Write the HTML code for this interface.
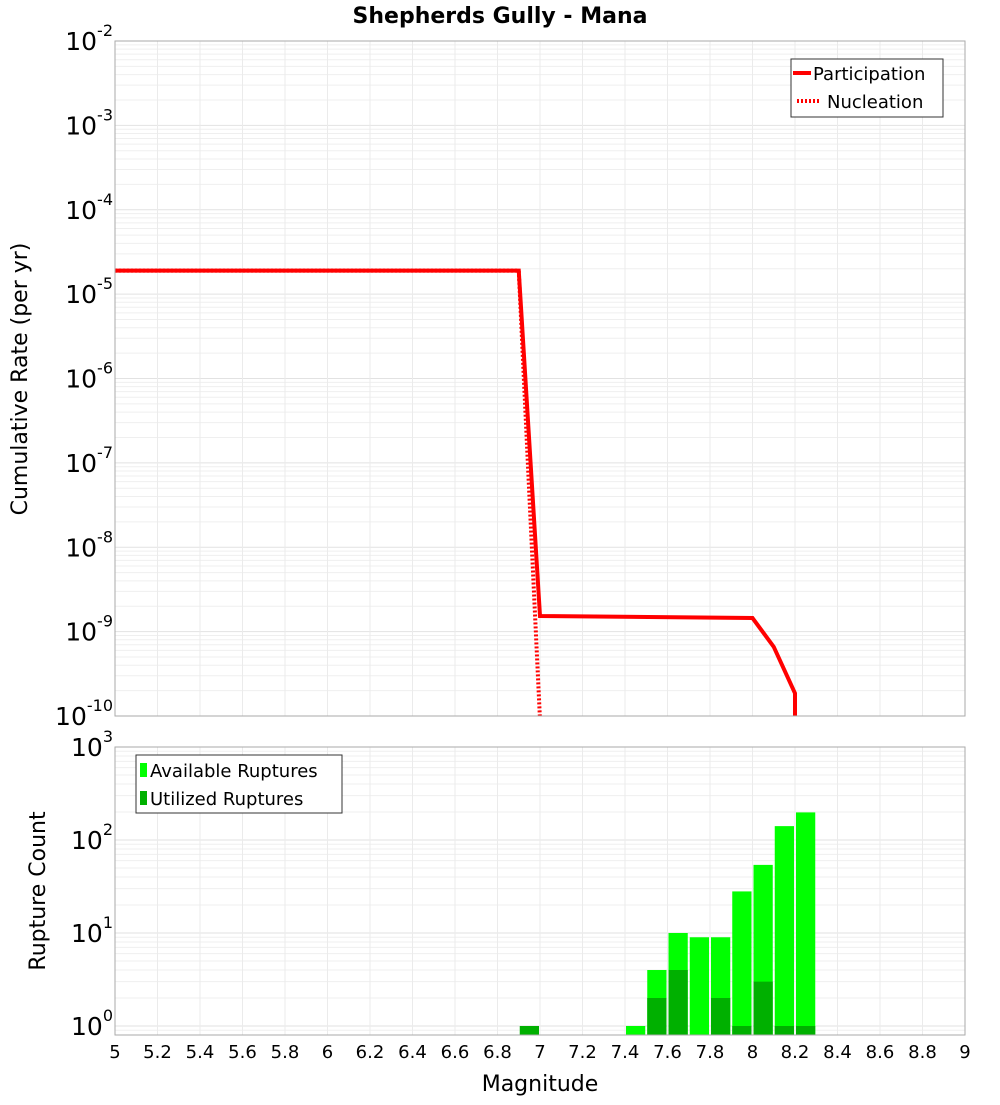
<!DOCTYPE html>
<html><head><meta charset="utf-8"><style>
body{margin:0;background:#fff;}
svg text{font-family:"DejaVu Sans","Liberation Sans",sans-serif;}
</style></head><body>
<svg id="c" width="1000" height="1100" xmlns="http://www.w3.org/2000/svg">
<text x="500" y="23" text-anchor="middle" font-size="22" font-weight="bold">Shepherds Gully - Mana</text>
<defs>
<clipPath id="clipTop"><rect x="115" y="41" width="850" height="675"/></clipPath>
</defs>
<g id="grid"></g>
<g id="bars"></g>
<g id="lines" clip-path="url(#clipTop)"></g>
<rect x="115" y="41" width="850" height="675" fill="none" stroke="#aaa"/>
<rect x="115" y="747" width="850" height="288" fill="none" stroke="#aaa"/>
<g id="ticks"></g>
<text transform="translate(27,379) rotate(-90)" text-anchor="middle" font-size="22">Cumulative Rate (per yr)</text>
<text transform="translate(45,891) rotate(-90)" text-anchor="middle" font-size="22">Rupture Count</text>
<text x="540" y="1091" text-anchor="middle" font-size="22">Magnitude</text>
<g>
<rect x="791" y="59" width="152" height="58" fill="#fff" stroke="#333"/>
<line x1="793" y1="73" x2="811" y2="73" stroke="#f00" stroke-width="4"/>
<text x="813" y="80" font-size="18">Participation</text>
<line x1="797" y1="101" x2="821" y2="101" stroke="#f00" stroke-width="4" stroke-dasharray="2,2"/>
<text x="827" y="108" font-size="18">Nucleation</text>
</g>
<g>
<rect x="136" y="755" width="206" height="58" fill="#fff" stroke="#333"/>
<rect x="140" y="763" width="7" height="14" fill="#00ff00"/>
<text x="150" y="777" font-size="18">Available Ruptures</text>
<rect x="140" y="791" width="7" height="14" fill="#00b000"/>
<text x="150" y="805" font-size="18">Utilized Ruptures</text>
</g>
</svg>
<script>
const partMags=[5.0,6.9,7.0,8.0,8.1,8.2,8.2];
const partRates=[1.9e-5,1.9e-5,1.53e-9,1.45e-9,6.6e-10,1.86e-10,1e-12];
const nuclMags=[5.0,6.9,7.0];
const nuclRates=[1.9e-5,1.9e-5,9e-11];
const binCenters=[6.95,7.45,7.55,7.65,7.75,7.85,7.95,8.05,8.15,8.25];
const availCounts=[0,1,4,10,9,9,28,54,141,198];
const utilCounts=[1,0,2,4,0,2,1,3,1,1];
const xTicks=[5,5.2,5.4,5.6,5.8,6,6.2,6.4,6.6,6.8,7,7.2,7.4,7.6,7.8,8,8.2,8.4,8.6,8.8,9];
const xTickLabels=["5","5.2","5.4","5.6","5.8","6","6.2","6.4","6.6","6.8","7","7.2","7.4","7.6","7.8","8","8.2","8.4","8.6","8.8","9"];
const topExps=[-2,-3,-4,-5,-6,-7,-8,-9,-10];
const botExps=[3,2,1,0];

const NS="http://www.w3.org/2000/svg";
const X=m=>115+(m-5)*212.5;
const YT=v=>41+(-2-Math.log10(v))*84.375;
const YB=v=>747+(3-Math.log10(v))*93;
function mk(tag,attrs,parent){const e=document.createElementNS(NS,tag);for(const k in attrs)e.setAttribute(k,attrs[k]);document.getElementById(parent).appendChild(e);return e;}

// grid
for(let d=-10;d<-2;d++){for(let k=1;k<10;k++){const y=YT(k*Math.pow(10,d));const l=mk('line',{x1:115,x2:965,y1:y,y2:y,stroke:k==1?'#e2e2e2':'#efefef'},'grid');

}}
for(let d=-1;d<3;d++){for(let k=1;k<10;k++){const v=k*Math.pow(10,d);const y=YB(v);if(y>1035)continue;const l=mk('line',{x1:115,x2:965,y1:y,y2:y,stroke:k==1?'#e2e2e2':'#efefef'},'grid');

}}
xTicks.forEach(m=>{const x=X(m);
const a=mk('line',{x1:x,x2:x,y1:41,y2:716,stroke:'#ebebeb'},'grid');


const b=mk('line',{x1:x,x2:x,y1:747,y2:1035,stroke:'#ebebeb'},'grid');

});

// bars
binCenters.forEach((c,i)=>{const x0=X(c-0.05)+1,w=212.5*0.1-2;
if(availCounts[i]>0){const y=YB(availCounts[i]);const r=mk('rect',{x:x0,y:y,width:w,height:1035-y,fill:'#00ff00'},'bars');

}
if(utilCounts[i]>0){const y=YB(utilCounts[i]);const r=mk('rect',{x:x0,y:y,width:w,height:1035-y,fill:'#00b000'},'bars');

}});

// lines
const pn=mk('polyline',{points:nuclMags.map((m,i)=>X(m)+','+YT(nuclRates[i])).join(' '),fill:'none',stroke:'#f00','stroke-width':4,'stroke-dasharray':'2,2'},'lines');


const pp=mk('polyline',{points:partMags.map((m,i)=>X(m)+','+YT(partRates[i])).join(' '),fill:'none',stroke:'#f00','stroke-width':4},'lines');



// ticks
xTicks.forEach((m,i)=>{const t=mk('text',{x:X(m),y:1058,'text-anchor':'middle','font-size':18},'ticks');t.textContent=xTickLabels[i];

});
function ylab(y,e,nm){const t=mk('text',{x:113,y:y+9,'text-anchor':'end','font-size':25},'ticks');


const a=document.createElementNS(NS,'tspan');a.textContent='10';t.appendChild(a);
const b=document.createElementNS(NS,'tspan');b.setAttribute('font-size','16');b.setAttribute('dy','-14');b.textContent=String(e);t.appendChild(b);}
topExps.forEach(e=>ylab(YT(Math.pow(10,e)),e,'top-y-tick-label'));
botExps.forEach(e=>ylab(YB(Math.pow(10,e)),e,'bottom-y-tick-label'));
</script>
</body></html>
